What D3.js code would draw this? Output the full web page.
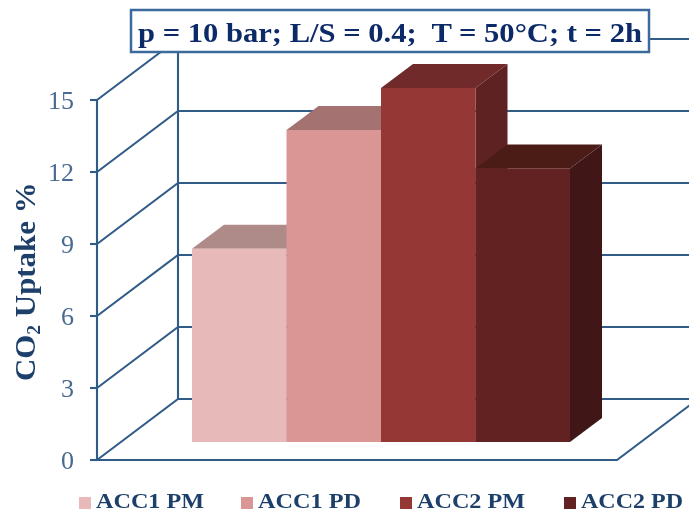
<!DOCTYPE html>
<html><head><meta charset="utf-8">
<script src="https://cdn.jsdelivr.net/npm/d3@7/dist/d3.min.js"></script>
<style>html,body{margin:0;padding:0;background:#fff}svg{display:block}</style>
</head><body><svg id="c" width="689" height="513"></svg>
<script>
const categories = ["ACC1 PM","ACC1 PD","ACC2 PM","ACC2 PD"];
const uptake = [8.05,13,14.75,11.4];
const yTicks = [0,3,6,9,12,15];
const frontColors = ["#e8b9b9","#da9695","#953735","#632423"];
const topColors = ["#ae8a88","#a47270","#70292a","#4c1b19"];
const sideColors = ["#ae8a88","#a47270","#5f2220","#3f1715"];
const titleText = "p = 10 bar; L/S = 0.4;  T = 50°C; t = 2h";
const axisTitle = "Uptake %";

const FONT = "'Liberation Serif','Times New Roman',serif";
const LINE = "#335b88";
const svg = d3.select("#c");
svg.append("defs").append("filter").attr("id","soft").append("feGaussianBlur").attr("stdDeviation",0.45);
const y = d3.scaleLinear().domain([0,15]).range([460,100]);
const x = d3.scaleBand().domain(categories).range([192,570]).padding(0);
const wall = {dx:81, dy:-61};
const barDepth = {dx:32, dy:-24};
const baseShift = -18;
const floorRight = 617;
const line = d3.line();
const root = svg.append("g").attr("filter","url(#soft)");

const g = root.append("g").attr("fill","none").attr("stroke",LINE).attr("stroke-width",2.1);
yTicks.forEach(t=>{
  const py=y(t);
  g.append("path").attr("d",line([[97,py],[97+wall.dx,py+wall.dy],[floorRight+wall.dx,py+wall.dy]]));
  g.append("path").attr("d",line([[90,py],[97,py]]));
});
g.append("path").attr("d",line([[97,y(0)],[97,y(15)]]));
g.append("path").attr("d",line([[97+wall.dx,y(0)+wall.dy],[97+wall.dx,y(15)+wall.dy]]));
g.append("path").attr("d",line([[97,y(0)],[floorRight,y(0)],[floorRight+wall.dx,y(0)+wall.dy]]));

root.append("g").selectAll("text").data(yTicks).join("text")
  .attr("x",74).attr("y",d=>y(d)+9).attr("text-anchor","end")
  .attr("font-family",FONT).attr("font-size",26).attr("fill","#4a6a90").text(d=>d);

const bars = root.append("g").selectAll("g").data(categories).join("g");
bars.each(function(c,i){
  const s=d3.select(this), x0=x(c), x1=x0+x.bandwidth();
  const b=y(0)+baseShift, t=y(uptake[i])+baseShift, {dx,dy}=barDepth;
  s.append("path").attr("fill",sideColors[i]).attr("d",line([[x1,b],[x1+dx,b+dy],[x1+dx,t+dy],[x1,t]])+"Z");
  s.append("path").attr("fill",topColors[i]).attr("d",line([[x0,t],[x0+dx,t+dy],[x1+dx,t+dy],[x1,t]])+"Z");
  s.append("rect").attr("x",x0).attr("y",t).attr("width",x.bandwidth()).attr("height",b-t).attr("fill",frontColors[i]);
});

root.append("rect").attr("x",131).attr("y",10).attr("width",518).attr("height",42)
  .attr("fill","#fff").attr("stroke","#3d6a9c").attr("stroke-width",2.5);
root.append("text").attr("x",138).attr("y",42).attr("font-family",FONT).attr("font-weight","bold")
  .attr("font-size",28).attr("fill","#0c2a68").style("white-space","pre")
  .attr("textLength",504).attr("lengthAdjust","spacingAndGlyphs").text(titleText);

const yt = root.append("text").attr("transform","translate(35,381) rotate(-90) scale(1.03,1)")
  .attr("font-family",FONT).attr("font-weight","bold").attr("font-size",30).attr("fill","#1c3f6a");
yt.append("tspan").text("CO");
yt.append("tspan").attr("font-size",19).attr("dy",5).text("2");
yt.append("tspan").attr("dy",-5).text(" "+axisTitle);

const legendOffsets = [79,241,400,564];
const legendWidths = [108,103,108,102];
const leg = root.append("g").selectAll("g").data(categories).join("g");
leg.append("rect").attr("x",(d,i)=>legendOffsets[i]).attr("y",497).attr("width",12).attr("height",12)
  .attr("fill",(d,i)=>frontColors[i]);
leg.append("text").attr("x",(d,i)=>legendOffsets[i]+17).attr("y",508.4)
  .attr("font-family",FONT).attr("font-weight","bold").attr("font-size",21).attr("fill","#1c3f6a")
  .attr("textLength",(d,i)=>legendWidths[i]).attr("lengthAdjust","spacingAndGlyphs").text(d=>d);
</script></body></html>
